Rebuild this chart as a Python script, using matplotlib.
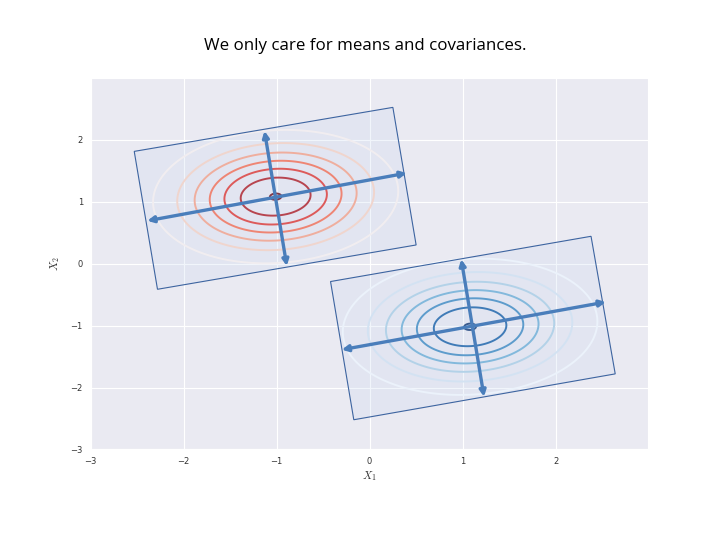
import numpy as np
import matplotlib
matplotlib.use('Agg')
import matplotlib.pyplot as plt
import seaborn as sns
from matplotlib.patches import Polygon

# gaussian parameters
red_mean = [-1.01, 1.08]
red_cov = [[0.445, 0.03], [0.03, 0.297]]
blue_mean = [1.08, -1.02]
blue_cov = [[0.48, 0.03], [0.03, 0.31]]

# overlay boxes (corners, data units)
red_box_x = [-2.53, 0.25, 0.50, -2.28]
red_box_y = [1.81, 2.52, 0.30, -0.415]
blue_box_x = [-0.42, 2.38, 2.64, -0.17]
blue_box_y = [-0.29, 0.44, -1.78, -2.52]

# principal axis arrows: (x0, y0, x1, y1)
red_arrows = [(-2.39, 0.69, 0.40, 1.46), (-1.13, 2.14, -0.89, -0.04)]
blue_arrows = [(-0.30, -1.39, 2.54, -0.62), (0.985, 0.07, 1.23, -2.15)]

xticks = [-3, -2, -1, 0, 1, 2]
yticks = [-3, -2, -1, 0, 1, 2]


def gauss_pdf(X, Y, mean, cov):
	cov = np.array(cov)
	inv = np.linalg.inv(cov)
	dx = X - mean[0]
	dy = Y - mean[1]
	q = inv[0, 0]*dx*dx + 2*inv[0, 1]*dx*dy + inv[1, 1]*dy*dy
	return np.exp(-0.5*q) / (2*np.pi*np.sqrt(np.linalg.det(cov)))


def main():
	sns.set_style('darkgrid')
	plt.rcParams['mathtext.fontset'] = 'cm'
	fig = plt.figure(figsize=(7.2, 5.4), dpi=100)
	ax = fig.add_axes([0.1257, 0.1676, 0.774, 0.6875])

	grid = np.arange(-3, 3, 0.01)
	X, Y = np.meshgrid(grid, grid)
	for mean, cov, cmap in [(red_mean, red_cov, 'Reds'), (blue_mean, blue_cov, 'Blues')]:
		Z = gauss_pdf(X, Y, mean, cov)
		peak = Z.max()
		levels = peak * np.arange(1, 8) / 7.03
		ax.contour(X, Y, Z, levels=levels, cmap=cmap, linewidths=1.4, zorder=2)

	#pale boxes like the slide overlay, sitting on top of the contours
	for bx, by in [(red_box_x, red_box_y), (blue_box_x, blue_box_y)]:
		pts = np.column_stack([bx, by])
		ax.add_patch(Polygon(pts, closed=True, facecolor=(0.80, 0.85, 0.94, 0.26),
							 edgecolor='#3d64a0', linewidth=0.8, zorder=3))

	for x0, y0, x1, y1 in red_arrows + blue_arrows:
		ax.annotate('', xy=(x1, y1), xytext=(x0, y0),
					arrowprops=dict(arrowstyle='<|-|>', color='#4a7ebb', lw=2.4,
									mutation_scale=9, shrinkA=0, shrinkB=0), zorder=4)

	ax.set_xlim(-3, 2.99)
	ax.set_ylim(-3, 2.99)
	ax.set_xticks(xticks)
	ax.set_yticks(yticks)
	ax.tick_params(labelsize=6, colors='#333333', pad=2)
	ax.set_xlabel('$X_1$', fontsize=8, color='#333333', labelpad=2)
	ax.set_ylabel('$X_2$', fontsize=8, color='#333333', labelpad=6)

	fig.text(0.507, 0.915, 'We only care for means and covariances.', ha='center', va='center',
			 fontsize=12.2, family=['Open Sans', 'DejaVu Sans'], color='black')

	fig.savefig('out.png', dpi=100, facecolor='white')


if __name__ == "__main__":
	main()
